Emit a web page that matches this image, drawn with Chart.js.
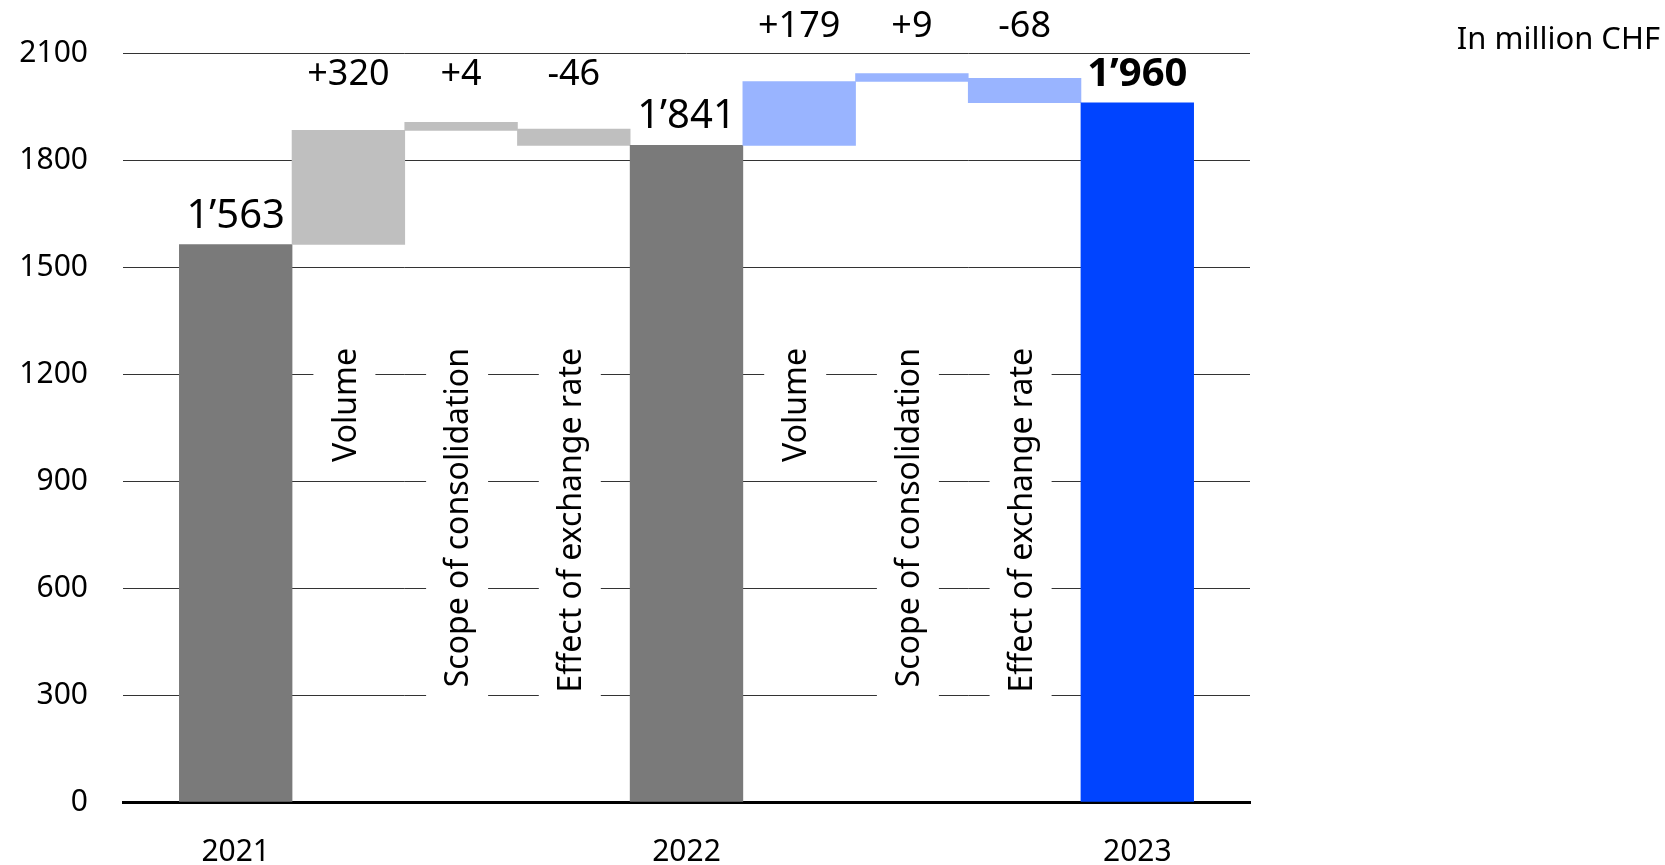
<!DOCTYPE html>
<html lang="en">
  <head>
    <meta charset="UTF-8" />
    <meta name="viewport" content="width=device-width, initial-scale=1.0" />
    <title>Bridge 2021 - 2023</title>
    <script src="https://cdn.jsdelivr.net/npm/chart.js"></script>
    <style>
      html,
      body {
        margin: 0;
        padding: 0;
        background: #fff;
      }
      .wrap {
        position: relative;
        width: 1665px;
        height: 865px;
      }
    </style>
  </head>
  <body>
    <div class="wrap">
      <canvas id="myChart"></canvas>
    </div>

    <script>
      "use strict";
      const categories = [
        "2021",
        "Volume",
        "Scope of consolidation",
        "Effect of exchange rate",
        "2022",
        "Volume",
        "Scope of consolidation",
        "Effect of exchange rate",
        "2023",
      ];
      const changes = [1563, 320, 4, -46, 1841, 179, 9, -68, 1960];
      const isTotal = [true, false, false, false, true, false, false, false, true];
      const valueLabels = ["1’563", "+320", "+4", "-46", "1’841", "+179", "+9", "-68", "1’960"];
      const yTicks = [0, 300, 600, 900, 1200, 1500, 1800, 2100];
      const unitLabel = "In million CHF";

      // turn totals + steps into floating [start, end] bars
      const ranges = [];
      let running = 0;
      changes.forEach((v, i) => {
        if (isTotal[i]) {
          ranges.push([0, v]);
          running = v;
        } else {
          ranges.push([running, running + v]);
          running += v;
        }
      });

      // an empty slot on each side gives the half-bar gap at both ends
      const labels = ["", ...categories, ""];
      const data = [null, ...ranges, null];

      function barColor(ctx) {
        const i = ctx.dataIndex - 1;
        if (i < 0 || i >= categories.length) return "#000";
        if (isTotal[i]) return i === categories.length - 1 ? "#0044ff" : "#7a7a7a";
        const totalsBefore = isTotal.slice(0, i).filter(Boolean).length;
        return totalsBefore === 1 ? "#bfbfbf" : "#99b4ff";
      }

      const bridgeLabels = {
        id: "bridgeLabels",
        beforeDatasetsDraw(chart) {
          // step names, rotated, on white plates that cut the grid lines
          const { ctx, chartArea } = chart;
          const meta = chart.getDatasetMeta(0);
          ctx.save();
          ctx.font = "32px 'Noto Sans'";
          categories.forEach((name, i) => {
            if (isTotal[i]) return;
            const bar = meta.data[i + 1];
            const top = chartArea.top + 295;
            const w = ctx.measureText(name).width;
            ctx.fillStyle = "#fff";
            ctx.fillRect(bar.x - 35, top - 6, 62, w + 20);
            ctx.save();
            ctx.translate(bar.x - 2, top);
            ctx.rotate(-Math.PI / 2);
            ctx.fillStyle = "#000";
            ctx.textAlign = "right";
            ctx.textBaseline = "middle";
            ctx.fillText(name, 0, 0);
            ctx.restore();
          });
          ctx.restore();
        },
        afterDatasetsDraw(chart) {
          const { ctx } = chart;
          const meta = chart.getDatasetMeta(0);
          const topOf = (i) => {
            const b = meta.data[i + 1];
            return Math.min(b.y, b.base);
          };
          ctx.save();
          ctx.fillStyle = "#000";
          ctx.textAlign = "center";
          ctx.textBaseline = "alphabetic";
          categories.forEach((name, i) => {
            const bar = meta.data[i + 1];
            if (isTotal[i]) {
              const last = i === categories.length - 1;
              ctx.font = (last ? "bold " : "") + "40px 'Noto Sans'";
              ctx.fillText(valueLabels[i], bar.x, topOf(i) - 17);
            } else {
              // steps of one bridge share a line above the highest step
              let a = i;
              let b = i;
              while (!isTotal[a - 1]) a--;
              while (!isTotal[b + 1]) b++;
              let groupTop = Infinity;
              for (let k = a; k <= b; k++) groupTop = Math.min(groupTop, topOf(k));
              ctx.font = "36px 'Noto Sans'";
              ctx.fillText(valueLabels[i], bar.x, groupTop - 37);
            }
          });
          ctx.restore();
        },
        afterDraw(chart) {
          const { ctx } = chart;
          ctx.save();
          ctx.font = "31px 'Noto Sans'";
          ctx.fillStyle = "#000";
          ctx.textAlign = "right";
          ctx.textBaseline = "alphabetic";
          ctx.fillText(unitLabel, 1660, 49);
          ctx.restore();
        },
      };

      Chart.defaults.font.family = "'Noto Sans', sans-serif";
      Chart.defaults.color = "#000";

      const ctx = document.getElementById("myChart").getContext("2d");
      new Chart(ctx, {
        type: "bar",
        data: {
          labels: labels,
          datasets: [
            {
              data: data,
              backgroundColor: barColor,
              borderWidth: 0,
              barPercentage: 1,
              categoryPercentage: 1,
              minBarLength: 8, // keeps the tiny steps visible
            },
          ],
        },
        options: {
          responsive: true,
          maintainAspectRatio: false,
          animation: false,
          layout: {
            padding: { top: 51, right: 415, bottom: 0, left: 0 },
          },
          scales: {
            x: {
              type: "category",
              offset: false,
              grid: { display: false },
              border: { display: true, color: "#000", width: 3 },
              ticks: {
                autoSkip: false,
                maxRotation: 0,
                padding: 24,
                font: { size: 30 },
                callback: function (val, idx) {
                  const c = idx - 1;
                  return isTotal[c] ? categories[c] : "";
                },
              },
              afterFit: function (scale) {
                scale.height = 63;
              },
            },
            y: {
              min: 0,
              max: 2100,
              afterBuildTicks: function (scale) {
                scale.ticks = yTicks.map((v) => ({ value: v }));
              },
              grid: { color: "#333", lineWidth: 1, drawTicks: false },
              border: { display: false },
              ticks: {
                padding: 35,
                font: { size: 30 },
                callback: function (value) {
                  return String(value);
                },
              },
              afterFit: function (scale) {
                scale.width = 123;
              },
            },
          },
          plugins: {
            legend: { display: false },
            tooltip: { enabled: false },
          },
        },
        plugins: [bridgeLabels],
      });
    </script>
  </body>
</html>
